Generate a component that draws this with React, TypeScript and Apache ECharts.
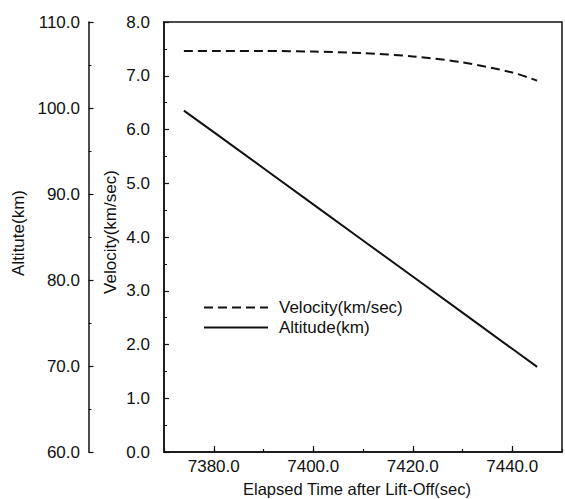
import React, { useEffect, useRef } from "react";
import * as echarts from "echarts";

const timeSec = [7374, 7380, 7390, 7400, 7410, 7420, 7430, 7440, 7445];
const velocity = [7.46, 7.46, 7.46, 7.45, 7.42, 7.36, 7.25, 7.06, 6.91];
const altitude = [99.7, 97.2, 93.0, 88.8, 84.6, 80.4, 76.2, 72.0, 69.9];
const xMajorTicks = [7380, 7400, 7420, 7440];

const FONT = "Liberation Sans, Arial, Helvetica, sans-serif";
const INK = "#111";

export default function App() {
  const ref = useRef<HTMLDivElement>(null);
  useEffect(() => {
    if (!ref.current) return;
    const chart = echarts.init(ref.current, undefined, { renderer: "svg" });
    const velData = timeSec.map((t, i) => [t, velocity[i]]);
    const altData = timeSec.map((t, i) => [t, altitude[i]]);
    chart.setOption({
      animation: false,
      backgroundColor: "#fff",
      textStyle: { fontFamily: FONT, color: INK },
      grid: {
        left: 164,
        top: 22,
        width: 404,
        height: 430,
        show: true,
        borderColor: INK,
        borderWidth: 1.5,
        backgroundColor: "transparent",
      },
      legend: {
        orient: "vertical",
        left: 198,
        top: 294,
        itemWidth: 64,
        itemHeight: 16,
        itemGap: 3,
        itemStyle: { opacity: 0 },
        textStyle: { fontFamily: FONT, fontSize: 17, color: INK, padding: [0, 0, 0, 6] },
        data: ["Velocity(km/sec)", "Altitude(km)"],
      },
      xAxis: [
        {
          type: "value",
          min: 7370,
          max: 7450,
          interval: 10,
          position: "bottom",
          axisLine: { show: true, lineStyle: { color: INK, width: 1.5 } },
          axisTick: { show: true, inside: true, length: 3, lineStyle: { color: INK, width: 1.2 } },
          axisLabel: {
            show: true,
            margin: 6,
            fontSize: 17,
            color: INK,
            fontFamily: FONT,
            formatter: (v: number) => (xMajorTicks.includes(v) ? v.toFixed(1) : ""),
          },
          splitLine: { show: false },
        },
        {
          type: "value",
          min: 7370,
          max: 7450,
          position: "bottom",
          axisLine: { show: false },
          axisTick: {
            show: true,
            inside: true,
            length: 6,
            customValues: xMajorTicks,
            lineStyle: { color: INK, width: 1.2 },
          },
          axisLabel: { show: false },
          splitLine: { show: false },
        },
      ],
      yAxis: [
        {
          type: "value",
          min: 0,
          max: 8,
          interval: 1,
          position: "left",
          axisLine: { show: true, lineStyle: { color: INK, width: 1.5 } },
          axisTick: { show: true, inside: true, length: 5, lineStyle: { color: INK, width: 1.2 } },
          minorTick: { show: true, splitNumber: 2, length: 3, lineStyle: { color: INK, width: 1 } },
          axisLabel: {
            margin: 14,
            fontSize: 17,
            color: INK,
            fontFamily: FONT,
            formatter: (v: number) => v.toFixed(1),
          },
          splitLine: { show: false },
          minorSplitLine: { show: false },
        },
        {
          type: "value",
          min: 60,
          max: 110,
          interval: 10,
          position: "left",
          offset: 75.5,
          axisLine: { show: true, lineStyle: { color: INK, width: 1.5 } },
          axisTick: { show: true, inside: true, length: 5, lineStyle: { color: INK, width: 1.2 } },
          minorTick: { show: true, splitNumber: 2, length: 3, lineStyle: { color: INK, width: 1 } },
          axisLabel: {
            margin: 8.5,
            fontSize: 17,
            color: INK,
            fontFamily: FONT,
            formatter: (v: number) => v.toFixed(1),
          },
          splitLine: { show: false },
          minorSplitLine: { show: false },
        },
      ],
      series: [
        {
          name: "Velocity(km/sec)",
          type: "line",
          xAxisIndex: 0,
          yAxisIndex: 0,
          data: velData,
          smooth: 0.3,
          symbol: "none",
          lineStyle: { color: INK, width: 2, type: [9, 5] },
          itemStyle: { color: INK },
        },
        {
          name: "Altitude(km)",
          type: "line",
          xAxisIndex: 0,
          yAxisIndex: 1,
          data: altData,
          symbol: "none",
          lineStyle: { color: INK, width: 2, type: "solid" },
          itemStyle: { color: INK },
        },
      ],
      graphic: [
        {
          type: "text",
          x: 357,
          y: 489,
          style: {
            text: "Elapsed Time after Lift-Off(sec)",
            fontSize: 16.5,
            fontFamily: FONT,
            fill: INK,
            textAlign: "center",
            textVerticalAlign: "middle",
          },
        },
        {
          type: "text",
          x: 18,
          y: 233,
          rotation: Math.PI / 2,
          style: {
            text: "Altitute(km)",
            fontSize: 17,
            fontFamily: FONT,
            fill: INK,
            textAlign: "center",
            textVerticalAlign: "middle",
          },
        },
        {
          type: "text",
          x: 110,
          y: 232,
          rotation: Math.PI / 2,
          style: {
            text: "Velocity(km/sec)",
            fontSize: 17,
            fontFamily: FONT,
            fill: INK,
            textAlign: "center",
            textVerticalAlign: "middle",
          },
        },
      ],
    });
    return () => chart.dispose();
  }, []);
  return <div ref={ref} style={{ width: 565, height: 499, position: "absolute", left: 0, top: 0 }} />;
}
